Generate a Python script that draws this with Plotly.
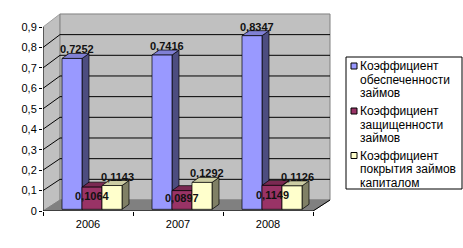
import plotly.graph_objects as go

# ---- data ----
years = ["2006", "2007", "2008"]
series_names = [
    ["Коэффициент", "обеспеченности", "займов"],
    ["Коэффициент", "защищенности", "займов"],
    ["Коэффициент", "покрытия займов", "капиталом"],
]
s_obesp = [0.7252, 0.7416, 0.8347]
s_zashch = [0.1064, 0.0897, 0.1149]
s_pokr = [0.1143, 0.1292, 0.1126]
y_ticks = [0, 0.1, 0.2, 0.3, 0.4, 0.5, 0.6, 0.7, 0.8, 0.9]
y_tick_labels = ["0", "0,1", "0,2", "0,3", "0,4", "0,5", "0,6", "0,7", "0,8", "0,9"]

series = [s_obesp, s_zashch, s_pokr]
front_colors = ["#9999FF", "#993366", "#FFFFCC"]
side_colors = ["#4D4D80", "#4D1A33", "#808066"]
top_colors = ["#8080D5", "#7A2952", "#CCCCA3"]

# ---- geometry (pixels) ----
W, H = 463, 248
PL, PR, PT, PB = 43, 333, 10, 211
UX = 90.0             # px per category
KF = 204.4            # px per unit, front scale
KB = 206.7            # px per unit, back wall scale
BACK0 = 200.0         # px of back-wall zero
DXB = 17 / UX         # wall depth in x units
BAR0 = 209.3          # px of bar base
KBAR = 208.0          # px per unit for bars
BW = 20 / UX
BDX = 7 / UX
BDY = 5 / KBAR

xr = [-0.5, -0.5 + (PR - PL) / UX]
yr = [0, (PB - PT) / KF]
ybar_r = [-(PB - BAR0) / KBAR, (BAR0 - PT) / KBAR]


def back(v):
    return (PB - BACK0 + v * KB) / KF


def px2paper(x, y):
    return (x - PL) / (PR - PL), (PB - y) / (PB - PT)


fig = go.Figure()
ncat = len(years)
x_end = ncat - 0.5

# left wall
fig.add_trace(go.Scatter(
    x=[-0.5, -0.5, -0.5 + DXB, -0.5 + DXB, -0.5],
    y=[0, y_ticks[-1], back(y_ticks[-1]), back(0), 0],
    fill="toself", fillcolor="#C0C0C0", mode="lines",
    line=dict(color="#A0A0A0", width=1), hoverinfo="skip", showlegend=False))
# back wall
fig.add_trace(go.Scatter(
    x=[-0.5 + DXB, x_end + DXB, x_end + DXB, -0.5 + DXB, -0.5 + DXB],
    y=[back(0), back(0), back(y_ticks[-1]), back(y_ticks[-1]), back(0)],
    fill="toself", fillcolor="#C0C0C0", mode="lines",
    line=dict(color="#808080", width=1), hoverinfo="skip", showlegend=False))
# gridlines
gx, gy = [], []
for v in y_ticks[1:-1]:
    gx += [-0.5, -0.5 + DXB, x_end + DXB, None]
    gy += [v, back(v), back(v), None]
fig.add_trace(go.Scatter(x=gx, y=gy, mode="lines",
                         line=dict(color="black", width=1),
                         hoverinfo="skip", showlegend=False))
# floor
fig.add_trace(go.Scatter(
    x=[-0.5, x_end, x_end + DXB, -0.5 + DXB, -0.5],
    y=[0, 0, back(0), back(0), 0],
    fill="toself", fillcolor="#808080", mode="lines",
    line=dict(color="#808080", width=1), hoverinfo="skip", showlegend=False))
# floor right edge + x axis line + y axis line
fig.add_trace(go.Scatter(
    x=[-0.5, -0.5, x_end, x_end + DXB],
    y=[y_ticks[-1], 0, 0, back(0)],
    mode="lines", line=dict(color="black", width=1),
    hoverinfo="skip", showlegend=False))

# bar side/top faces (y2), fronts (y3)
for i, vals in enumerate(series):
    off = (-26 + 20 * i) / UX
    for c, v in enumerate(vals):
        x0 = c + off
        x1 = x0 + BW
        fig.add_trace(go.Scatter(
            x=[x1, x1 + BDX, x1 + BDX, x1, x1],
            y=[0, BDY, v + BDY, v, 0],
            fill="toself", fillcolor=side_colors[i], mode="lines",
            line=dict(color="black", width=0.7), yaxis="y2",
            hoverinfo="skip", showlegend=False))
        fig.add_trace(go.Scatter(
            x=[x0, x0 + BDX, x1 + BDX, x1, x0],
            y=[v, v + BDY, v + BDY, v, v],
            fill="toself", fillcolor=top_colors[i], mode="lines",
            line=dict(color="black", width=0.7), yaxis="y2",
            hoverinfo="skip", showlegend=False))
    fig.add_trace(go.Bar(
        x=list(range(ncat)), y=vals, width=BW, offset=off,
        marker=dict(color=front_colors[i], line=dict(color="black", width=0.7)),
        yaxis="y3", showlegend=False, name=" ".join(series_names[i])))

# data labels
for i, vals in enumerate(series):
    for c, v in enumerate(vals):
        xc = c + (-26 + 20 * i) / UX + BW / 2
        if i == 1:
            yv, ys = v / 2, 2
        else:
            yv, ys = v, 9
        fig.add_annotation(
            x=xc, y=yv, xref="x", yref="y2", xshift=5 if i != 1 else 0, yshift=ys,
            text="<b>" + f"{v:.4f}".replace(".", ",") + "</b>", showarrow=False,
            font=dict(family="Liberation Sans", size=11, color="#111111"),
            xanchor="center", yanchor="middle")

# manual legend
bx0, by0 = px2paper(346, 57)
bx1, by1 = px2paper(462, 189)
fig.add_shape(type="rect", xref="paper", yref="paper", x0=bx0, y0=by0, x1=bx1, y1=by1,
              line=dict(color="black", width=1), fillcolor="white", layer="above")
item_starts = [66, 111, 155.5]
for i, lines in enumerate(series_names):
    s = item_starts[i]
    sx0, sy0 = px2paper(351, s - 3)
    sx1, sy1 = px2paper(357, s + 3)
    fig.add_shape(type="rect", xref="paper", yref="paper", x0=sx0, y0=sy0, x1=sx1, y1=sy1,
                  line=dict(color="black", width=1), fillcolor=front_colors[i], layer="above")
    for j, t in enumerate(lines):
        tx, ty = px2paper(358, s + 13.5 * j)
        fig.add_annotation(x=tx, y=ty, xref="paper", yref="paper", text=t,
                           showarrow=False, xanchor="left", yanchor="middle",
                           font=dict(family="Liberation Sans", size=12, color="black"))

fig.update_layout(
    width=W, height=H, autosize=False,
    margin=dict(l=PL, r=W - PR, t=PT, b=H - PB),
    paper_bgcolor="white", plot_bgcolor="white",
    font=dict(family="Liberation Sans", size=11, color="black"),
    xaxis=dict(range=xr, tickvals=list(range(ncat)), ticktext=years,
               showgrid=False, zeroline=False, showline=False, ticks="",
               ticklabelstandoff=5,
               minor=dict(tick0=-0.5, dtick=1, ticks="outside", ticklen=4,
                          tickcolor="black", showgrid=False)),
    yaxis=dict(range=yr, tickvals=y_ticks, ticktext=y_tick_labels,
               showgrid=False, zeroline=False, showline=False,
               ticks="outside", ticklen=3, tickcolor="black"),
    yaxis2=dict(range=ybar_r, overlaying="y", visible=False),
    yaxis3=dict(range=ybar_r, overlaying="y", visible=False),
    barmode="overlay", showlegend=False,
)

fig.write_html("out.html")
